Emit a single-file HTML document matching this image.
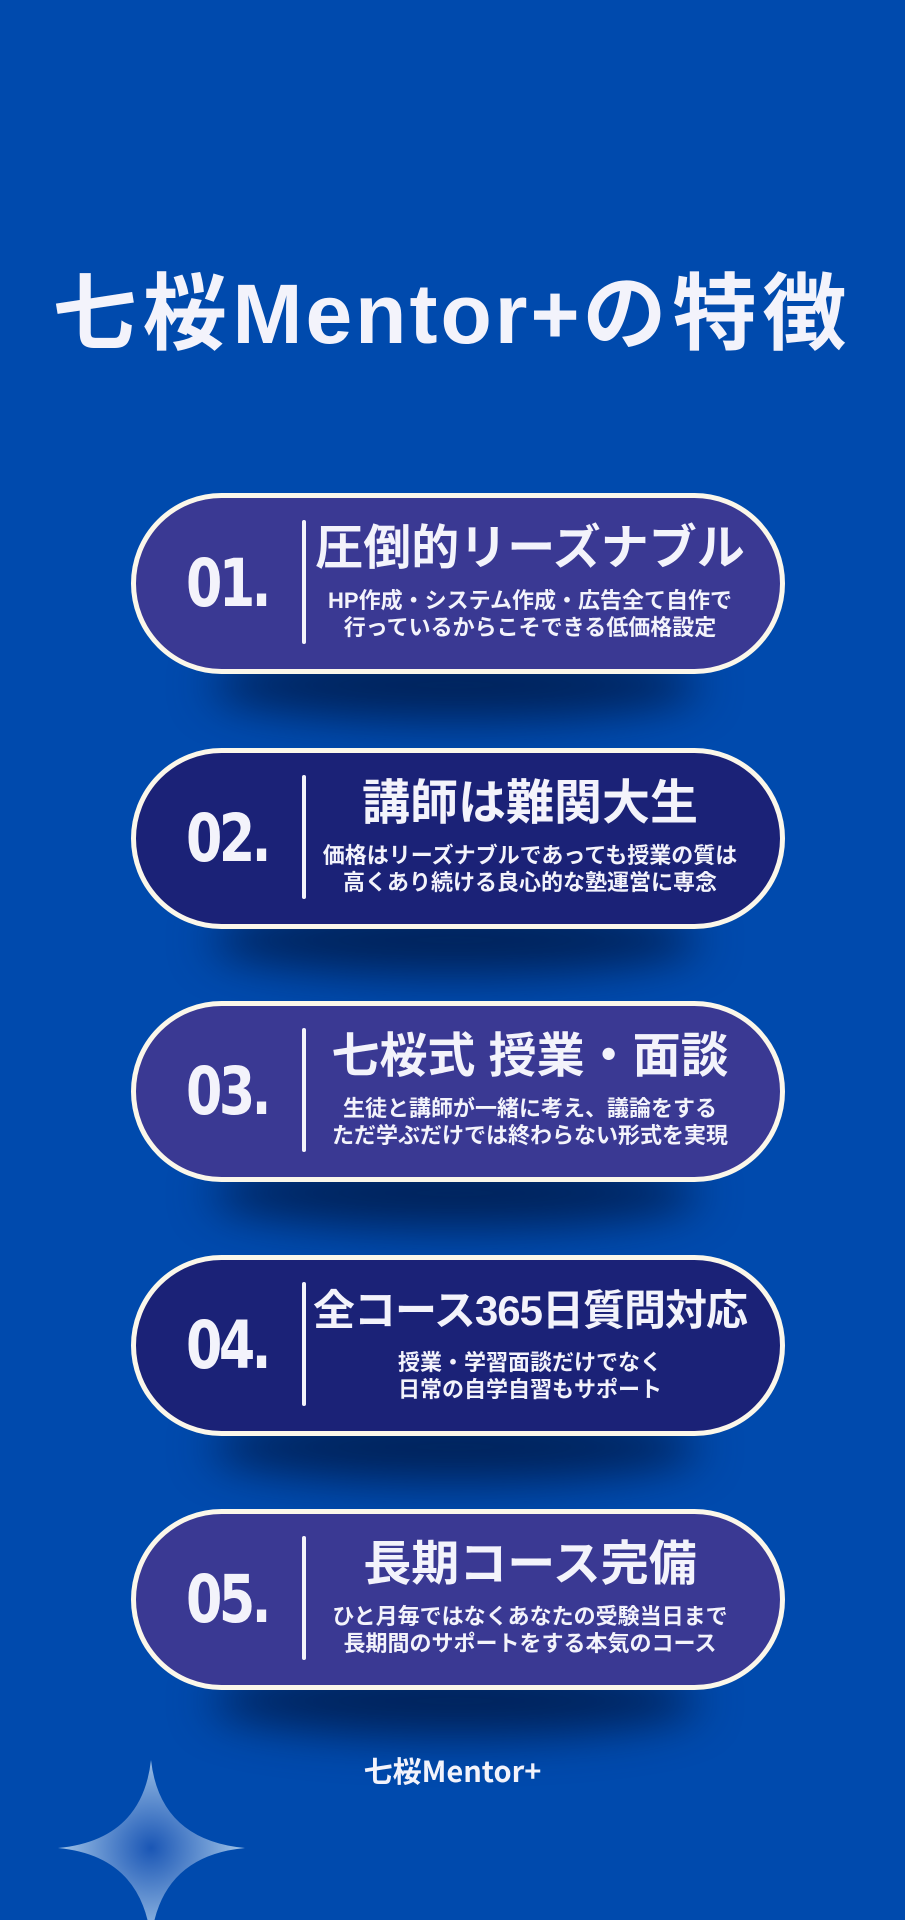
<!DOCTYPE html>
<html><head><meta charset="utf-8"><style>
*{margin:0;padding:0;box-sizing:border-box}
body{width:905px;height:1920px;background:#004aad;position:relative;overflow:hidden;font-family:"Liberation Sans","Noto Sans CJK JP",sans-serif;color:#f3f3fb}
.title{position:absolute;left:0;width:905px;top:258px;text-align:center;font-size:84px;font-weight:bold;line-height:100px;letter-spacing:6px;font-family:"Noto Sans CJK JP",sans-serif}
.title span{font-family:"Liberation Sans",sans-serif;letter-spacing:3px}
.sh{position:absolute;left:210px;width:490px;height:70px;border-radius:50%;background:rgba(0,20,60,.75);filter:blur(22px)}
.pill{position:absolute;left:131px;width:654px;height:181px;border-radius:91px;border:5px solid #fbf7ea}
.a{background:#3a3993}.b{background:#1b2277}
.num{position:absolute;left:50px;top:0;height:171px;line-height:171px;font-size:66px;font-weight:bold;font-family:"DejaVu Sans Condensed","Liberation Sans",sans-serif;letter-spacing:-4px;transform:scaleX(.88);transform-origin:left}
.div{position:absolute;left:166px;top:22px;width:4px;height:124px;background:#f3f3fb;border-radius:2px}
.txt{position:absolute;left:164px;width:460px;text-align:center;font-family:"Liberation Sans","Noto Sans CJK JP",sans-serif;font-weight:bold;white-space:nowrap}
.h{top:20px;font-size:48px;line-height:62px}
.s{top:89px;font-size:22px;line-height:27px}
.foot{position:absolute;left:0;width:905px;top:1749px;text-align:center;font-size:29px;font-weight:bold;font-family:"Noto Sans CJK JP",sans-serif}
</style></head><body>
<div class="title">七桜<span>Mentor+</span>の特徴</div>

<div class="sh" style="top:650px"></div>
<div class="sh" style="top:905px"></div>
<div class="sh" style="top:1158px"></div>
<div class="sh" style="top:1412px"></div>
<div class="sh" style="top:1666px"></div>

<div class="pill a" style="top:493px"><div class="num">01.</div><div class="div"></div>
<div class="txt h">圧倒的リーズナブル</div><div class="txt s">HP作成・システム作成・広告全て自作で<br>行っているからこそできる低価格設定</div></div>

<div class="pill b" style="top:748px"><div class="num">02.</div><div class="div"></div>
<div class="txt h">講師は難関大生</div><div class="txt s">価格はリーズナブルであっても授業の質は<br>高くあり続ける良心的な塾運営に専念</div></div>

<div class="pill a" style="top:1001px"><div class="num">03.</div><div class="div"></div>
<div class="txt h">七桜式 授業・面談</div><div class="txt s">生徒と講師が一緒に考え、議論をする<br>ただ学ぶだけでは終わらない形式を実現</div></div>

<div class="pill b" style="top:1255px"><div class="num">04.</div><div class="div"></div>
<div class="txt h" style="font-size:42px;letter-spacing:-1px">全コース365日質問対応</div><div class="txt s">授業・学習面談だけでなく<br>日常の自学自習もサポート</div></div>

<div class="pill a" style="top:1509px"><div class="num">05.</div><div class="div"></div>
<div class="txt h">長期コース完備</div><div class="txt s">ひと月毎ではなくあなたの受験当日まで<br>長期間のサポートをする本気のコース</div></div>

<div class="foot">七桜Mentor+</div>

<svg style="position:absolute;left:0;top:1740px" width="300" height="180">
<defs><radialGradient id="g" cx="151" cy="108" r="90" gradientUnits="userSpaceOnUse"><stop offset="0" stop-color="#1a56b5"/><stop offset="1" stop-color="#9cc0e6"/></radialGradient></defs>
<path d="M151 20 Q160 100 245 108 Q160 116 151 200 Q142 116 58 108 Q142 100 151 20Z" fill="url(#g)"/>
</svg>
</body></html>
